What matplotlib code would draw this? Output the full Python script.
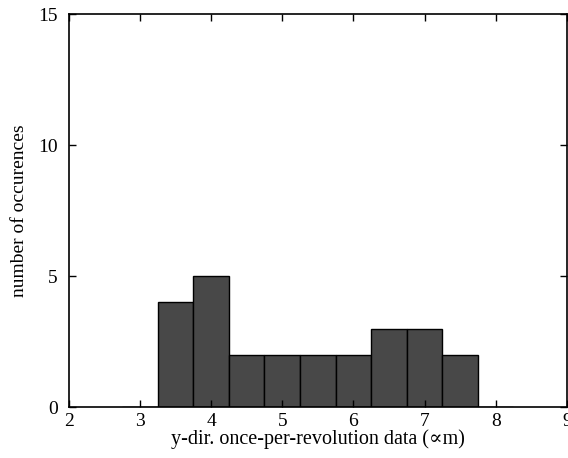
import matplotlib
matplotlib.use("Agg")
import matplotlib.pyplot as plt

plt.rcParams['font.family'] = ['Liberation Serif', 'DejaVu Serif']

bin_centers = [3.0, 3.5, 4.0, 4.5, 5.0, 5.5, 6.0, 6.5, 7.0, 7.5, 8.0]
counts = [0, 4, 5, 2, 2, 2, 2, 3, 3, 2, 0]
x_ticks = [2, 3, 4, 5, 6, 7, 8, 9]
y_ticks = [0, 5, 10, 15]

fig = plt.figure(figsize=(5.68, 4.58), dpi=100)
ax = fig.add_axes([0.121, 0.111, 0.877, 0.858])
ax.bar(bin_centers, counts, width=0.5, color='#484848', edgecolor='black', linewidth=1.0)
ax.set_xlim(2, 9)
ax.set_ylim(0, 15)
ax.set_xticks(x_ticks)
ax.set_yticks(y_ticks)
ax.tick_params(direction='in', top=True, right=True, length=5, width=1, labelsize=14)
ax.tick_params(axis='y', pad=8)
ax.tick_params(axis='x', pad=4)
for s in ax.spines.values():
    s.set_linewidth(1.2)
ax.set_xlabel('y-dir. once-per-revolution data (∝m)', fontsize=14.5, labelpad=0)
ax.set_ylabel('number of occurences', fontsize=14, labelpad=7)
fig.savefig('out.png', dpi=100)
